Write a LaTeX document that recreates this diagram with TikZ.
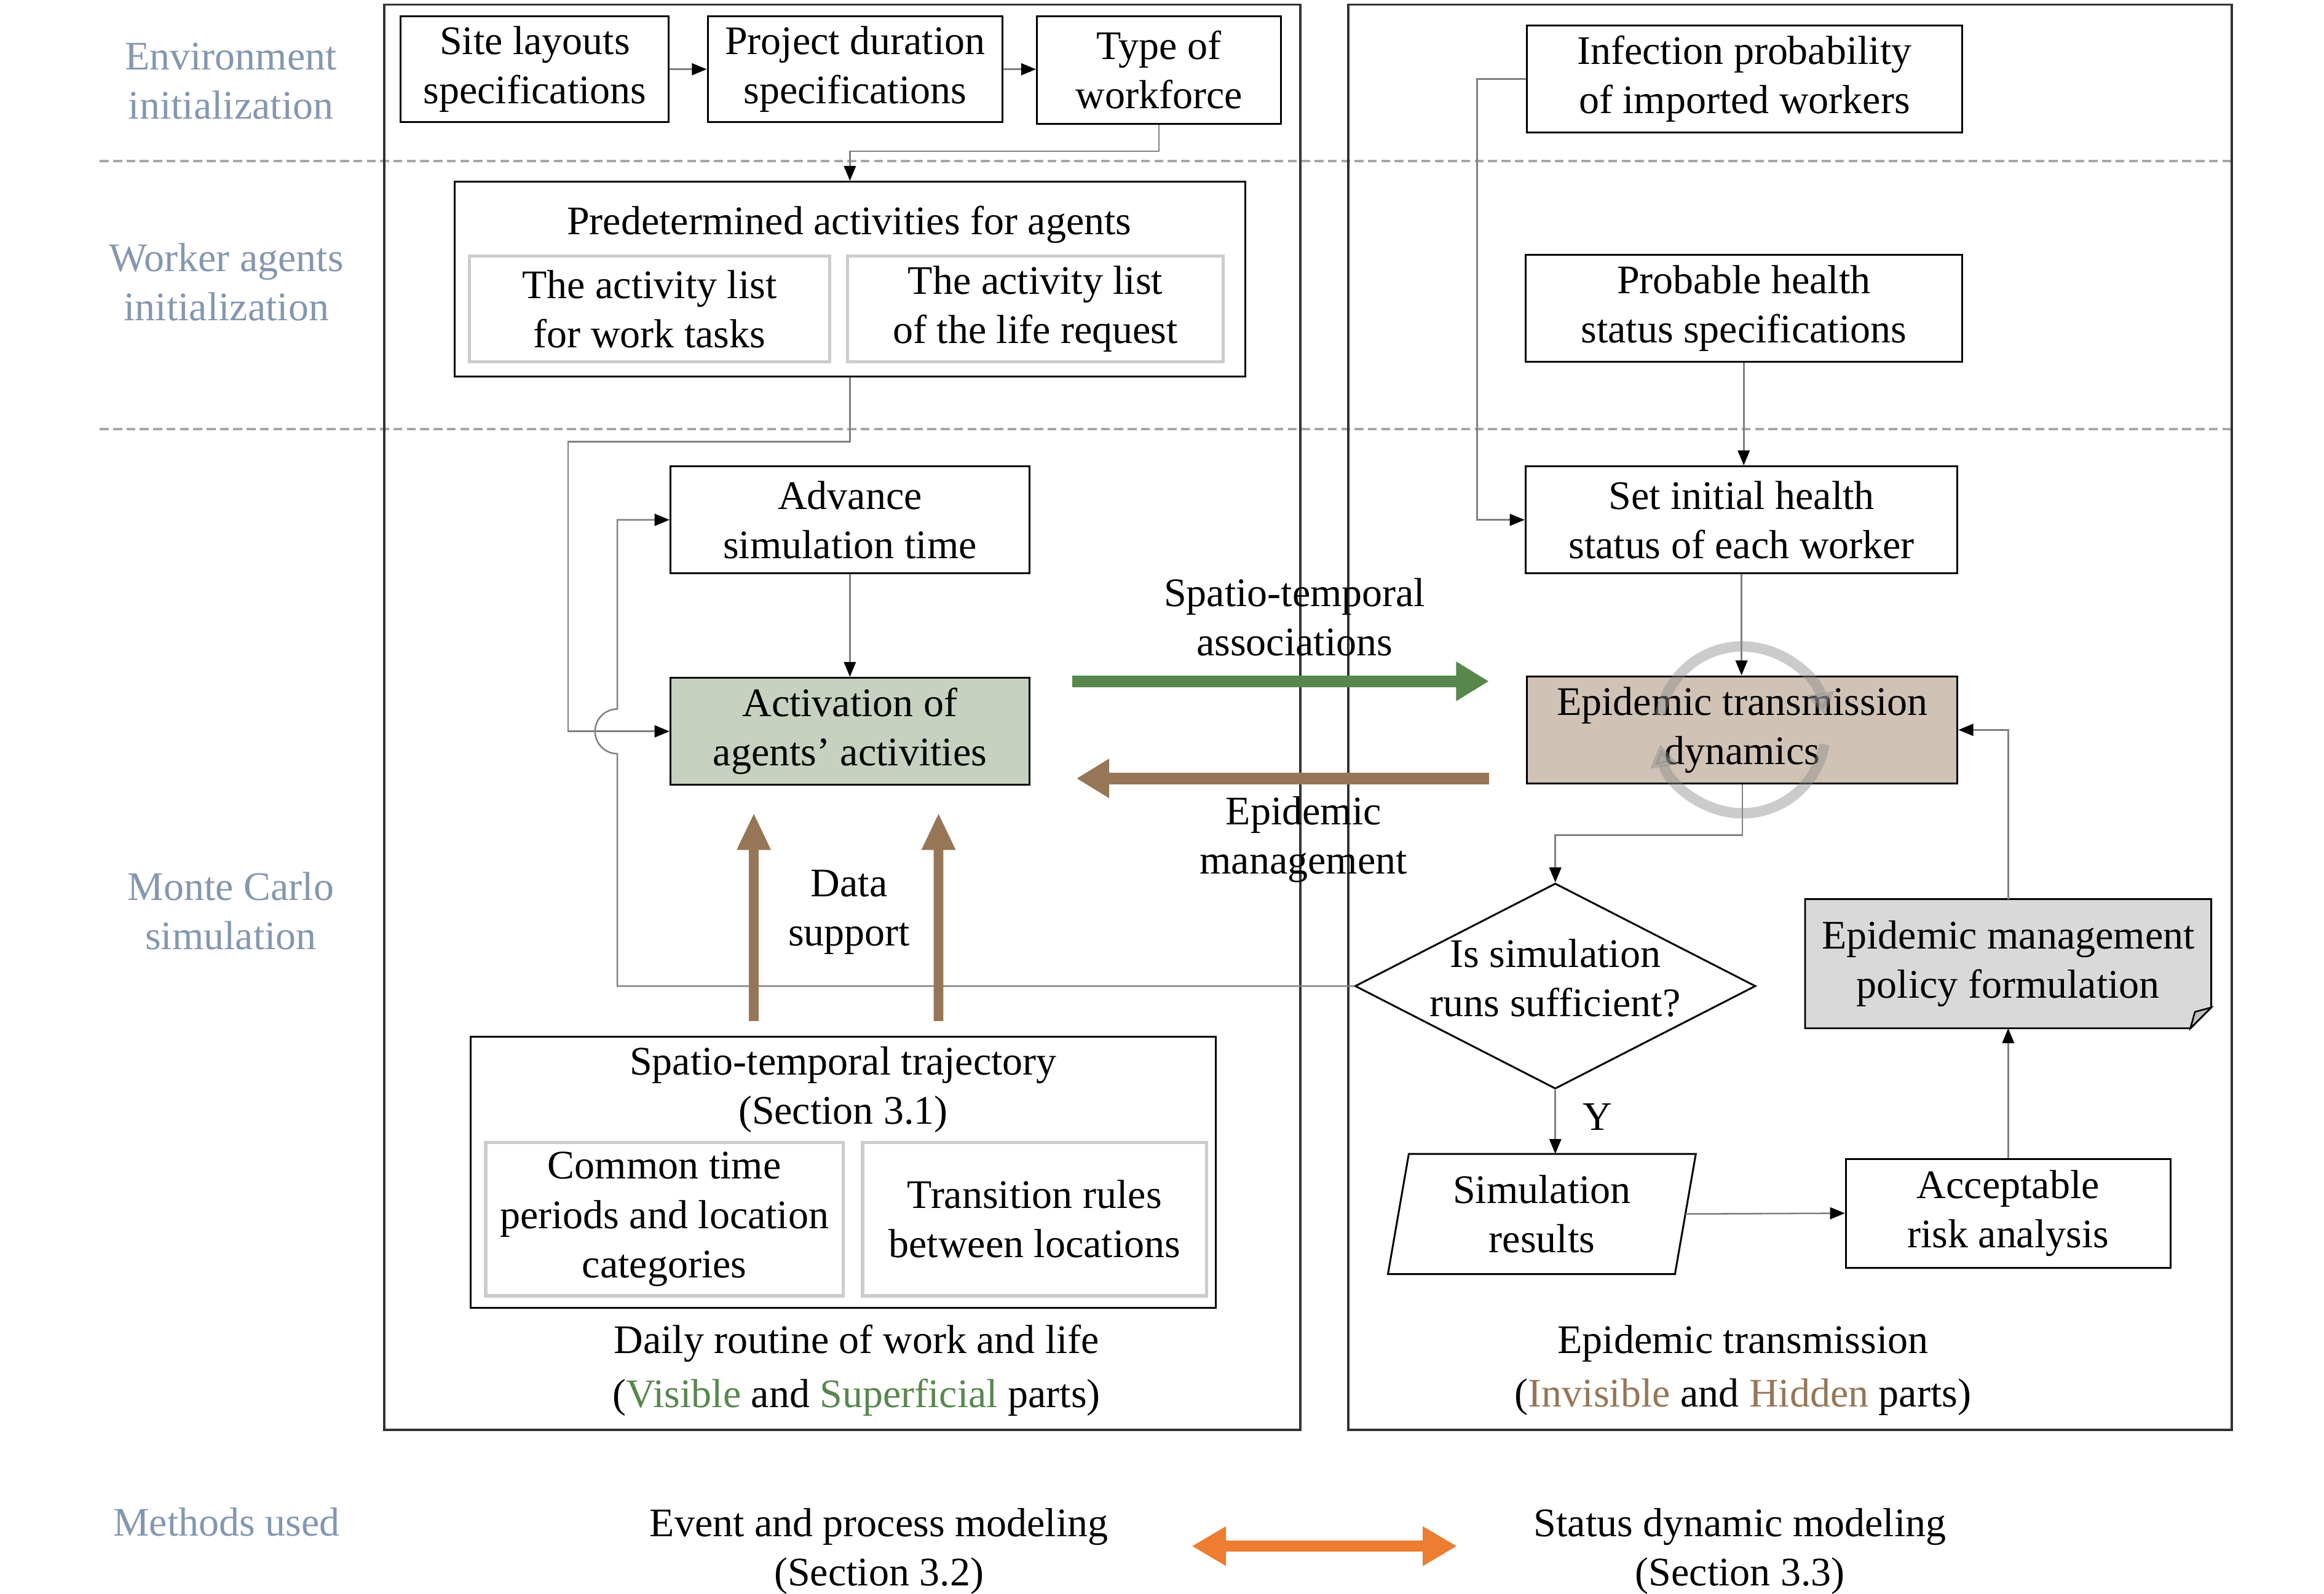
\documentclass[tikz,border=0pt]{standalone}
\usepackage{fontspec}
\setmainfont{Liberation Serif}
\usetikzlibrary{shapes.geometric, arrows.meta, calc}

\definecolor{lblue}{RGB}{132,151,176}
\definecolor{visgreen}{RGB}{88,135,78}
\definecolor{hidbrown}{RGB}{150,118,86}
\definecolor{actfill}{RGB}{198,209,192}
\definecolor{epifill}{RGB}{208,195,181}
\definecolor{polfill}{RGB}{217,217,217}
\definecolor{methorange}{RGB}{237,125,49}

\begin{document}
\begin{tikzpicture}[x=0.02cm, y=-0.02cm,
	font=\fontsize{15.5}{18.8}\selectfont,
	every node/.style={align=center},
	box/.style={draw, line width=0.7pt, inner sep=1pt},
	subbox/.style={draw=black!20, line width=1.2pt, inner sep=1pt},
	panel/.style={draw=black!80, line width=0.9pt, minimum height=19.14cm},
	side/.style={text=lblue},
	sepline/.style={draw=black!35, line width=1pt, dash pattern=on 3.4pt off 1.7pt},
	conn/.style={draw=black!50, line width=0.6pt, -{Triangle[length=0.2cm, width=0.16cm, color=black]}},
	greenarrow/.style={draw=visgreen, line width=0.16cm, -{Triangle[length=0.44cm, width=0.5cm]}},
	brownarrow/.style={draw=hidbrown, line width=0.16cm, -{Triangle[length=0.44cm, width=0.5cm]}},
	dataarrow/.style={draw=hidbrown, line width=0.13cm, -{Triangle[length=0.5cm, width=0.42cm]}},
	orangearrow/.style={draw=methorange, line width=0.15cm, {Triangle[length=0.46cm, width=0.5cm]}-{Triangle[length=0.46cm, width=0.5cm]}},
	ring/.style={draw=black!45, line width=0.14cm, opacity=0.45, -{Triangle[length=0.3cm, width=0.36cm]}},
	]
	\useasboundingbox (0,0) rectangle (1560,1070);

	% stage separators
	\draw[sepline] (67,108) -- (1498,108);
	\draw[sepline] (67,288) -- (1498,288);

	% the two panels
	\node[panel, minimum width=12.3cm] (leftpanel) at (565.5,481.5) {};
	\node[panel, minimum width=11.86cm] (rightpanel) at (1201.5,481.5) {};

	% stage labels
	\node[side] (envlabel) at (155,54.5) {Environment\\initialization};
	\node[side] (agentlabel) at (152,189.5) {Worker agents\\initialization};
	\node[side] (mclabel) at (155,611.5) {Monte Carlo\\simulation};
	\node[side] (methlabel) at (152,1022) {Methods used};

	% left panel
	\node[box, minimum width=3.6cm, minimum height=1.42cm] (site) at (359,46.5) {Site layouts\\specifications};
	\node[box, minimum width=3.96cm, minimum height=1.42cm] (proj) at (574,46.5) {Project duration\\specifications};
	\node[box, minimum width=3.28cm, minimum height=1.44cm] (type) at (778,47) {Type of\\workforce};

	\node[box, minimum width=10.62cm, minimum height=2.62cm] (pred) at (570.5,187.5) {};
	\node (predtitle) at (570,151) {Predetermined activities for agents};
	\node[subbox, minimum width=4.84cm, minimum height=1.42cm] (worklist) at (436,207.5) {The activity list\\for work tasks};
	\node[subbox, minimum width=5.04cm, minimum height=1.42cm] (lifelist) at (695,207.5) {The activity list\\of the life request};

	\node[box, minimum width=4.82cm, minimum height=1.44cm] (adv) at (570.5,349) {Advance\\simulation time};
	\node[box, fill=actfill, minimum width=4.82cm, minimum height=1.44cm] (act) at (570.5,491) {Activation of\\agents' activities};

	\node[box, minimum width=10cm, minimum height=3.64cm] (traj) at (566,787) {};
	\node (trajtitle) at (566,731.5) {Spatio-temporal trajectory\\(Section 3.1)};
	\node[subbox, minimum width=4.8cm, minimum height=2.06cm] (common) at (446,818.5) {Common time\\periods and location\\categories};
	\node[subbox, minimum width=4.62cm, minimum height=2.06cm] (transit) at (694.5,818.5) {Transition rules\\between locations};

	\node (leftcap) at (575,920) {Daily routine of work and life\\[1.7pt](\textcolor{visgreen}{Visible} and \textcolor{visgreen}{Superficial} parts)};

	% right panel
	\node[box, minimum width=5.84cm, minimum height=1.44cm] (infect) at (1171,53) {Infection probability\\of imported workers};
	\node[box, minimum width=5.86cm, minimum height=1.44cm] (probable) at (1170.5,207) {Probable health\\status specifications};
	\node[box, minimum width=5.8cm, minimum height=1.44cm] (initial) at (1169,349) {Set initial health\\status of each worker};
	\node[box, fill=epifill, minimum width=5.78cm, minimum height=1.44cm] (epi) at (1169.5,490) {Epidemic transmission\\dynamics};
	\node[diamond, draw, line width=0.7pt, aspect=1.95, inner sep=0pt, minimum width=5.38cm, minimum height=2.76cm,
		label={[yshift=0.11cm]center:Is simulation\\runs sufficient?}] (suff) at (1044,662) {};

	\node[minimum width=3.84cm, minimum height=1.6cm] (results) at (1035,815) {Simulation\\results};
	\draw[line width=0.7pt] ($(results.south west)+(-7,0)$) -- ($(results.north west)+(7,0)$)
		-- ($(results.north east)+(7,0)$) -- ($(results.south east)+(-7,0)$) -- cycle;

	\node[box, minimum width=4.36cm, minimum height=1.46cm] (accept) at (1348,814.5) {Acceptable\\risk analysis};

	\node[fill=polfill, minimum width=5.44cm, minimum height=1.72cm] (policy) at (1348,647) {Epidemic management\\policy formulation};
	\fill[white] ($(policy.south east)+(0,-14)$) -- (policy.south east) -- ($(policy.south east)+(-14,0)$) -- cycle;
	\draw[line width=0.7pt] (policy.north west) -- (policy.north east) -- ($(policy.south east)+(0,-14)$)
		-- ($(policy.south east)+(-14,0)$) -- (policy.south west) -- cycle;
	\draw[line width=0.6pt, fill=black!25] ($(policy.south east)+(0,-14)$) -- ($(policy.south east)+(-14,0)$)
		-- ($(policy.south east)+(-11,-11)$) -- cycle;

	\node (rightcap) at (1170,920) {Epidemic transmission\\[1.7pt](\textcolor{hidbrown}{Invisible} and \textcolor{hidbrown}{Hidden} parts)};

	% flow
	\draw[conn] (site) -- (proj);
	\draw[conn] (proj.east) -- (proj.east -| type.west);
	\draw[conn] (type.south) -- ++(0,18) -| (pred.north);
	\draw[conn] (pred.south) -- ++(0,43) -| ($(act.west)+(-68,0)$) -- (act.west);
	\draw[conn] (suff.west) -| ($(act.west)+(-35,15)$) arc[start angle=-90, end angle=-270, radius=0.3cm] |- (adv.west);
	\draw[conn] (adv) -- (act);

	\draw[conn] (infect.west) -- ++(-33,0) |- (initial.west);
	\draw[conn] (probable.south) -- (probable.south |- initial.north);
	\draw[conn] (initial.south) -- (initial.south |- epi.north);
	\draw[conn] (epi.south) -- ++(0,34) -| (suff.north);
	\draw[conn] (suff.south) -- (suff.south |- results.north) node[pos=0.42, right=0.24cm] (ylabel) {Y};
	\draw[conn] (results.east) -- (accept.west);
	\draw[conn] (accept.north) -- (policy.south);
	\draw[conn] (policy.north) |- (epi.east);

	% cycle mark on the dynamics box
	\draw[ring] ([shift={(170:1.12cm)}]epi.center) arc[start angle=170, end angle=10, radius=1.12cm];
	\draw[ring] ([shift={(-10:1.12cm)}]epi.center) arc[start angle=-10, end angle=-170, radius=1.12cm];

	% links between the two parts
	\draw[greenarrow] ($(act.north east)+(28,3)$) -- ($(epi.north west)+(-25,4)$);
	\draw[brownarrow] ($(epi.south west)+(-25,-4)$) -- ($(act.south east)+(31,-5)$);
	\node (stlabel) at (869,414.5) {Spatio-temporal\\associations};
	\node (emlabel) at (875,563.5) {Epidemic\\management};

	\draw[dataarrow] ($(traj.north)+(-60,-10)$) -- ($(act.south)+(-64.5,18)$);
	\draw[dataarrow] ($(traj.north)+(64,-10)$) -- ($(act.south)+(59.5,18)$);
	\node (datalabel) at (570,612.5) {Data\\support};

	% methods
	\node (evm) at (590,1041.5) {Event and process modeling\\(Section 3.2)};
	\node (sdm) at (1168,1041.5) {Status dynamic modeling\\(Section 3.3)};
	\draw[orangearrow] ($(evm.center)+(210,-3.5)$) -- ($(sdm.center)+(-190,-3.5)$);
\end{tikzpicture}
\end{document}
